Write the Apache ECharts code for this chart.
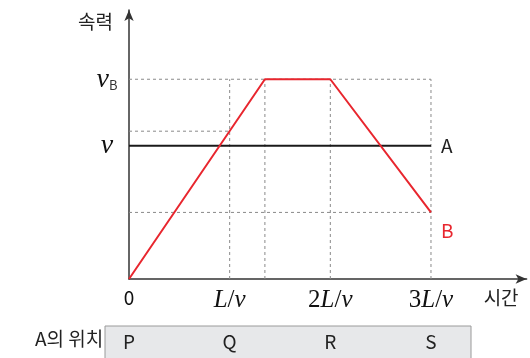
<!DOCTYPE html>
<html><head><meta charset="utf-8">
<script src="https://cdn.jsdelivr.net/npm/echarts@6/dist/echarts.min.js"></script>
<style>html,body{margin:0;padding:0;background:#fff}#c{width:530px;height:358px}</style>
</head><body><div id="c"></div>
<script>
// data
const timeTicks = [0, 1, 2, 3];
const timeLabels = ['0', 'L/v', '2L/v', '3L/v'];
const speedTicks = [1, 1.5];
const speedLabels = ['v', 'vB'];
const positionLabels = ['P', 'Q', 'R', 'S'];
const seriesA = [[0, 1], [3, 1]];
const seriesB = [[0, 0], [1.35, 1.5], [2, 1.5], [3, 0.5]];
const guideH = [[1.5, 0, 3], [1.11, 0, 1], [0.5, 0, 3]];      // speed, from t, to t
const guideV = [[1, 0, 1.5], [1.35, 0, 1.5], [2, 0, 1.5], [3, 0, 1.5]]; // t, from speed, to speed

const SERIF = 'Liberation Serif';
const SANS = 'Noto Sans CJK KR';

function timeRich(s) {
  if (s === '0') return '{z|0}';
  return s.split('').map(ch => /[A-Za-z]/.test(ch) ? '{i|' + ch + '}' : '{n|' + ch + '}').join('');
}

const chart = echarts.init(document.getElementById('c'), null, {renderer: 'canvas'});
const guideSeries = [];
guideH.forEach(g => guideSeries.push({
  type: 'line', data: [[g[1], g[0]], [g[2], g[0]]], symbol: 'none', silent: true,
  lineStyle: {color: '#8a8a8a', width: 1, type: [3, 3]}, z: 1
}));
guideV.forEach(g => guideSeries.push({
  type: 'line', data: [[g[0], g[1]], [g[0], g[2]]], symbol: 'none', silent: true,
  lineStyle: {color: '#8a8a8a', width: 1, type: [3, 3]}, z: 1
}));

chart.setOption({
  animation: false,
  grid: {left: 129, top: 10, width: 397.6, height: 269},
  xAxis: [{
    type: 'value', min: 0, max: 3.95, interval: 1,
    axisLine: {show: true, lineStyle: {color: '#333', width: 1.5}, symbol: ['none', 'arrow'], symbolSize: [7, 11]},
    axisTick: {show: false}, splitLine: {show: false},
    showMaxLabel: false,
    axisLabel: {
      margin: 9,
      formatter: v => { const i = timeTicks.indexOf(v); return i < 0 ? '' : timeRich(timeLabels[i]); },
      rich: {
        i: {fontFamily: SERIF, fontStyle: 'italic', fontSize: 25, color: '#111'},
        n: {fontFamily: SERIF, fontSize: 25, color: '#111'},
        z: {fontFamily: SANS, fontSize: 19, color: '#111'}
      }
    },
    name: '시간', nameLocation: 'end', nameGap: -8,
    nameTextStyle: {fontFamily: SANS, fontSize: 19, color: '#222', align: 'right', verticalAlign: 'top', padding: [9, 0, 0, 0]}
  }, {
    type: 'value', min: 0, max: 3.95, interval: 1, position: 'bottom', offset: 46,
    axisLine: {show: false}, axisTick: {show: false}, splitLine: {show: false},
    showMaxLabel: false,
    axisLabel: {
      margin: 7, fontFamily: SANS, fontSize: 19, color: '#222',
      formatter: v => { const i = timeTicks.indexOf(v); return i < 0 ? '' : positionLabels[i]; }
    }
  }],
  yAxis: {
    type: 'value', min: 0, max: 2.02, interval: 0.5,
    axisLine: {show: true, lineStyle: {color: '#333', width: 1.5}, symbol: ['none', 'arrow'], symbolSize: [7, 11]},
    axisTick: {show: false}, splitLine: {show: false},
    showMaxLabel: false,
    axisLabel: {
      margin: 22, align: 'center',
      formatter: v => {
        const i = speedTicks.indexOf(v);
        if (i < 0) return '';
        const s = speedLabels[i];
        return s.length > 1 ? '{v|' + s[0] + '}{s|' + s.slice(1) + '}' : '{v|' + s + '}';
      },
      rich: {
        v: {fontFamily: SERIF, fontStyle: 'italic', fontSize: 28, color: '#111'},
        s: {fontFamily: SANS, fontSize: 13, color: '#333', padding: [12, 0, 0, 0]}
      }
    },
    name: '속력', nameLocation: 'end', nameGap: -12,
    nameTextStyle: {fontFamily: SANS, fontSize: 19, color: '#222', align: 'right', verticalAlign: 'middle', padding: [0, 16, 0, 0]}
  },
  graphic: [
    {type: 'rect', z: -1, shape: {x: 105, y: 326, width: 366, height: 40}, style: {fill: '#e7e8ea', stroke: '#9a9a9a', lineWidth: 1}},
    {type: 'text', left: 35, top: 329, style: {text: 'A의 위치', fontFamily: SANS, fontSize: 19, fill: '#222'}}
  ],
  series: guideSeries.concat([
    {
      type: 'line', name: 'A', data: seriesA, symbol: 'none', z: 5,
      lineStyle: {color: '#1a1a1a', width: 2},
      endLabel: {show: true, formatter: 'A', distance: 10, fontFamily: SANS, fontSize: 19, color: '#222'}
    },
    {
      type: 'line', name: 'B', data: seriesB, symbol: 'none', z: 6,
      lineStyle: {color: '#e8262e', width: 2},
      endLabel: {show: true, formatter: 'B', offset: [0, 18], distance: 10, fontFamily: SANS, fontSize: 19, color: '#e8262e'}
    }
  ])
});
</script>
</body></html>
